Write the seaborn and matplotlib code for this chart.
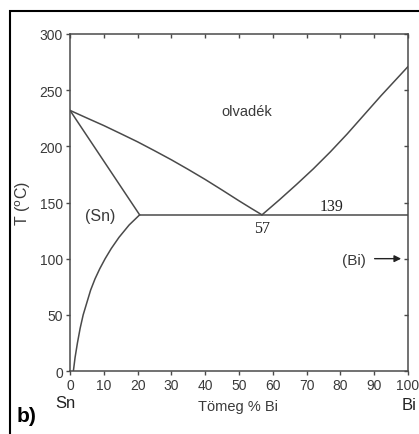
import matplotlib
matplotlib.use("Agg")
import matplotlib.pyplot as plt
import seaborn as sns
import pandas as pd
from matplotlib.patches import Rectangle

# phase boundaries of the Sn-Bi system (wt% Bi, deg C)
liquidus_sn_x = [0, 5, 10, 15, 20, 25, 30, 35, 40, 45, 50, 53.5, 56.8]
liquidus_sn_y = [232, 225.2, 218.5, 211.3, 204, 196.1, 188, 179.4, 170.5, 161.1, 151.5, 145, 139]

liquidus_bi_x = [56.8, 59.5, 62, 67, 72, 77, 82, 87, 92, 96, 100]
liquidus_bi_y = [139, 146, 152.5, 166, 180, 195, 211, 228, 245, 258, 271]

solidus_x = [0, 20.6]
solidus_y = [232, 139]

solvus_x = [20.6, 17.5, 14.5, 12.2, 10.4, 8.8, 7.4, 6.1, 5.0, 3.9, 3.0, 2.2, 1.5, 1.0]
solvus_y = [139, 130, 119, 109, 100, 91, 82, 72, 61, 50, 38, 25, 12, 0]

eutectic_x = [20.6, 100]
eutectic_y = [139, 139]

x_ticks = [0, 10, 20, 30, 40, 50, 60, 70, 80, 90, 100]
y_ticks = [0, 50, 100, 150, 200, 250, 300]

LINE = "#4a4a4a"
TEXT = "#3a3a3a"

sns.set_style("ticks")
plt.rcParams["font.family"] = ["Liberation Sans", "DejaVu Sans"]

fig = plt.figure(figsize=(4.19, 4.35), dpi=100)
ax = fig.add_axes([70 / 419, 1 - 372 / 435, 338 / 419, 337 / 435])

curves = [
    (liquidus_sn_x, liquidus_sn_y),
    (liquidus_bi_x, liquidus_bi_y),
    (solidus_x, solidus_y),
    (solvus_x, solvus_y),
    (eutectic_x, eutectic_y),
]
for xs, ys in curves:
    sns.lineplot(
        data=pd.DataFrame({"x": xs, "y": ys}),
        x="x", y="y", ax=ax, sort=False, estimator=None,
        color=LINE, linewidth=1.1,
    )

ax.set_xlim(0, 100)
ax.set_ylim(0, 300)
ax.set_xticks(x_ticks)
ax.set_yticks(y_ticks)
ax.set_xlabel("")
ax.set_ylabel(r"T ($^{\rm o}$C)", fontsize=11.5, color=TEXT, labelpad=5)
ax.tick_params(axis="both", direction="out", length=3, width=1, color=LINE,
               labelsize=10, labelcolor=TEXT, pad=2)
for spine in ax.spines.values():
    spine.set_visible(True)
    spine.set_color(LINE)
    spine.set_linewidth(1.1)

# inward marks on the top and right spines
top = ax.twiny()
top.set_xlim(ax.get_xlim())
top.set_xticks(x_ticks)
top.tick_params(axis="x", direction="in", length=3, width=1, color=LINE,
                labeltop=False, top=True, bottom=False)
right = ax.twinx()
right.set_ylim(ax.get_ylim())
right.set_yticks(y_ticks)
right.tick_params(axis="y", direction="in", length=3, width=1, color=LINE,
                  labelright=False, right=True, left=False)
for extra in (top, right):
    for spine in extra.spines.values():
        spine.set_visible(False)
    extra.grid(False)

# region labels
ax.text(52.4, 231.5, "olvadék", ha="center", va="center", fontsize=10.5, color=TEXT)
ax.text(8.8, 138, "(Sn)", ha="center", va="center", fontsize=11.5, color=TEXT)
ax.text(56.8, 127.5, "57", ha="center", va="center", fontsize=11.5,
        family="Liberation Serif", color="#222222")
ax.text(77.5, 146.5, "139", ha="center", va="center", fontsize=11.5,
        family="Liberation Serif", color="#222222")
ax.text(84, 99, "(Bi)", ha="center", va="center", fontsize=11, color=TEXT)
ax.annotate("", xy=(98.8, 100), xytext=(89.3, 100),
            arrowprops=dict(arrowstyle="-|>", color="#222222", lw=1,
                            mutation_scale=10))

# labels under the axis
fig.text(65 / 419, 1 - 404 / 435, "Sn", ha="center", va="center", fontsize=12, color="#222222")
fig.text(409 / 419, 1 - 406 / 435, "Bi", ha="center", va="center", fontsize=12, color="#222222")
fig.text(238 / 419, 1 - 407 / 435, "Tömeg % Bi", ha="center", va="center", fontsize=10.5, color=TEXT)
fig.text(27 / 419, 1 - 417 / 435, "b)", ha="center", va="center", fontsize=15,
         fontweight="bold", color="black")

# outer frame (open at right and bottom edges)
fig.patches.append(Rectangle((10 / 419, -0.1), 1.2, 1 - 12 / 435 + 0.1,
                             transform=fig.transFigure, fill=False,
                             edgecolor="black", linewidth=1.5))

fig.savefig("out.png", dpi=100, facecolor="white")
